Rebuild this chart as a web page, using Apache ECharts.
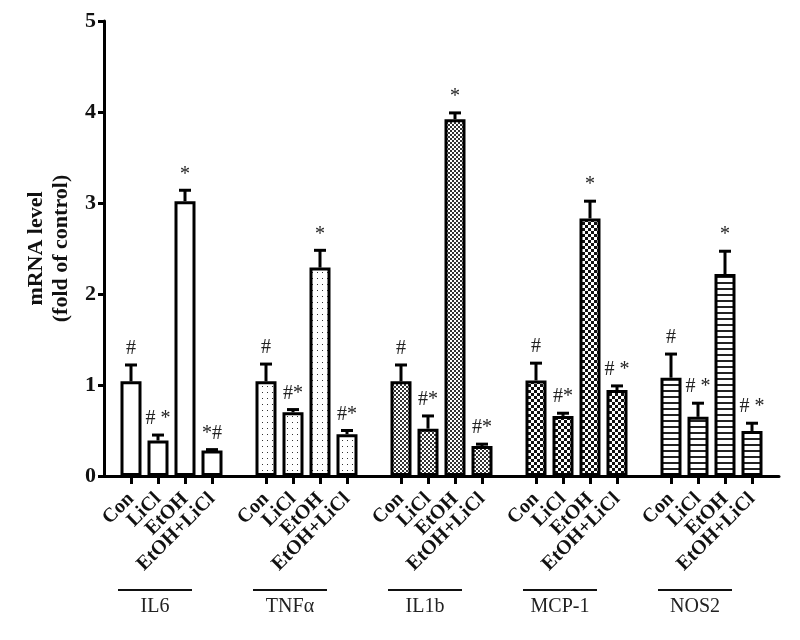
<!DOCTYPE html>
<html>
<head>
<meta charset="utf-8">
<script src="https://cdn.jsdelivr.net/npm/echarts@6/dist/echarts.min.js"></script>
<style>html,body{margin:0;padding:0;background:#fff}#c{width:800px;height:640px}</style>
</head>
<body>
<div id="c"></div>
<script>
// ---- data ----
const groups = ['IL6', 'TNFα', 'IL1b', 'MCP-1', 'NOS2'];
const conditions = ['Con', 'LiCl', 'EtOH', 'EtOH+LiCl'];
const meanIL6  = [1.04, 0.39, 3.02, 0.28];
const semIL6   = [0.18, 0.06, 0.12, 0.01];
const meanTNF  = [1.04, 0.70, 2.29, 0.46];
const semTNF   = [0.19, 0.03, 0.19, 0.04];
const meanIL1b = [1.04, 0.52, 3.92, 0.33];
const semIL1b  = [0.18, 0.14, 0.07, 0.02];
const meanMCP  = [1.05, 0.66, 2.83, 0.945];
const semMCP   = [0.19, 0.03, 0.19, 0.045];
const meanNOS2 = [1.08, 0.65, 2.22, 0.495];
const semNOS2  = [0.26, 0.15, 0.25, 0.085];
const markIL6  = ['#', '# *', '*', '*#'];
const markTNF  = ['#', '#*', '*', '#*'];
const markIL1b = ['#', '#*', '*', '#*'];
const markMCP  = ['#', '#*', '*', '# *'];
const markNOS2 = ['#', '# *', '*', '# *'];
const yTicks = [0, 1, 2, 3, 4, 5];

const means = [meanIL6, meanTNF, meanIL1b, meanMCP, meanNOS2];
const sems = [semIL6, semTNF, semIL1b, semMCP, semNOS2];
const marks = [markIL6, markTNF, markIL1b, markMCP, markNOS2];

// ---- patterns ----
function tile(w, h, draw) {
  const c = document.createElement('canvas');
  c.width = w; c.height = h;
  const ctx = c.getContext('2d');
  ctx.fillStyle = '#fff'; ctx.fillRect(0, 0, w, h);
  draw(ctx);
  return { image: c, repeat: 'repeat' };
}
const patterns = [
  '#ffffff',
  tile(5, 6, ctx => { ctx.fillStyle = '#333'; ctx.fillRect(2, 2, 1, 1); }),
  tile(4, 4, ctx => { ctx.fillStyle = '#333'; ctx.fillRect(0, 0, 2, 2); ctx.fillRect(2, 2, 2, 2); }),
  tile(6, 6, ctx => { ctx.fillStyle = '#111'; ctx.fillRect(0, 0, 3, 3); ctx.fillRect(3, 3, 3, 3); }),
  tile(6, 6, ctx => { ctx.fillStyle = '#222'; ctx.fillRect(0, 0, 6, 2); })
];

// ---- categories (blank slot between groups) ----
const cats = [];
const barData = [];
const errData = [];
const errMarks = [];
groups.forEach((g, gi) => {
  cats.push('_gap' + gi);
  barData.push('-');
  conditions.forEach((c, ci) => {
    const key = g + '|' + c;
    cats.push(key);
    barData.push({ value: means[gi][ci], itemStyle: { color: patterns[gi] } });
    errData.push([key, means[gi][ci], means[gi][ci] + sems[gi][ci]]);
    errMarks.push(marks[gi][ci]);
  });
});
cats.push('_gapEnd');
barData.push('-');

const serif = '"Liberation Serif", "Times New Roman", serif';
const chart = echarts.init(document.getElementById('c'), null, { renderer: 'canvas' });

chart.setOption({
  animation: false,
  backgroundColor: '#fff',
  grid: { left: 104, right: 21, top: 21, bottom: 164, containLabel: false, outerBoundsMode: 'none' },
  xAxis: {
    type: 'category',
    data: cats,
    boundaryGap: false,
    axisLine: { lineStyle: { color: '#000', width: 3 } },
    axisTick: {
      show: true, length: 8, inside: false,
      lineStyle: { color: '#000', width: 3 },
      interval: (i, v) => v.indexOf('_') !== 0
    },
    axisLabel: {
      interval: 0,
      showMinLabel: false, showMaxLabel: false, hideOverlap: false,
      rotate: 45, margin: 20,
      formatter: v => v.indexOf('|') >= 0 ? v.split('|')[1] : '',
      fontFamily: serif, fontWeight: 'bold', fontSize: 20, color: '#111'
    },
    splitLine: { show: false }
  },
  yAxis: {
    type: 'value', min: 0, max: 5, interval: 1,
    name: 'mRNA level\n(fold of control)',
    nameLocation: 'middle', nameRotate: 90, nameGap: 25,
    nameTextStyle: { fontFamily: serif, fontWeight: 'bold', fontSize: 22, lineHeight: 25, color: '#111' },
    axisLine: { show: true, lineStyle: { color: '#000', width: 3 } },
    axisTick: { show: true, length: 6, lineStyle: { color: '#000', width: 3 } },
    axisLabel: {
      margin: 8, fontFamily: serif, fontWeight: 'bold', fontSize: 22, color: '#111',
      formatter: v => yTicks.indexOf(v) >= 0 ? String(v) : ''
    },
    splitLine: { show: false }
  },
  series: [
    {
      type: 'bar', data: barData, barWidth: 21,
      itemStyle: { borderColor: '#000', borderWidth: 3 },
      z: 2
    },
    {
      type: 'custom', data: errData, z: 3,
      renderItem: (params, api) => {
        const base = api.coord([api.value(0), api.value(1)]);
        const top = api.coord([api.value(0), api.value(2)]);
        const hw = 6;
        return {
          type: 'group',
          children: [
            { type: 'line', shape: { x1: base[0], y1: base[1], x2: top[0], y2: top[1] }, style: { stroke: '#000', lineWidth: 3 } },
            { type: 'line', shape: { x1: top[0] - hw, y1: top[1], x2: top[0] + hw, y2: top[1] }, style: { stroke: '#000', lineWidth: 3 } },
            { type: 'text', x: top[0], y: top[1] - 6, style: { text: errMarks[params.dataIndex], align: 'center', verticalAlign: 'bottom', font: '20px ' + serif, fill: '#222' } }
          ]
        };
      }
    }
  ]
});

// group labels under the rotated category labels
const gfx = [];
groups.forEach((g, gi) => {
  const x1 = chart.convertToPixel({ xAxisIndex: 0 }, g + '|' + conditions[0]);
  const x2 = chart.convertToPixel({ xAxisIndex: 0 }, g + '|' + conditions[conditions.length - 1]);
  const a = x1 - 13, b = x2 - 20;
  gfx.push({ type: 'line', shape: { x1: a, y1: 590, x2: b, y2: 590 }, style: { stroke: '#111', lineWidth: 2 } });
  gfx.push({ type: 'text', x: (a + b) / 2, y: 607, style: { text: g, align: 'center', verticalAlign: 'middle', font: '20px ' + serif, fill: '#222' } });
});
chart.setOption({ graphic: gfx });
</script>
</body>
</html>
